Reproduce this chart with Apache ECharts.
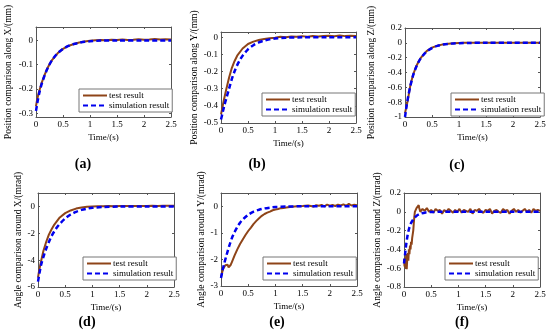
<!DOCTYPE html>
<html><head><meta charset="utf-8">
<script src="https://cdn.jsdelivr.net/npm/echarts@6/dist/echarts.min.js"></script>
<style>html,body{margin:0;padding:0;background:#fff}#c{width:550px;height:333px}</style>
</head><body><div id="c"></div>
<script>
// ---- data ----
var timeTest = [0,0.02,0.05,0.1,0.15,0.2,0.25,0.3,0.4,0.5,0.6,0.7,0.8,0.9,1.0,1.1,1.2,1.3,1.4,1.5,1.6,1.7,1.8,1.9,2.0,2.1,2.2,2.3,2.4,2.5];
var timeSim = [0,0.03,0.06,0.1,0.15,0.2,0.25,0.3,0.35,0.4,0.5,0.6,0.7,0.8,0.9,1.0,1.2,1.5,2.0,2.5];

var testA = [-0.27,-0.245,-0.215,-0.178,-0.147,-0.12,-0.098,-0.08,-0.053,-0.035,-0.023,-0.015,-0.009,-0.005,-0.002,0.001,0.002,0.001,0.003,0.002,0.004,0.002,0.003,0.005,0.003,0.004,0.006,0.004,0.005,0.004];
var simA = [-0.29,-0.25,-0.217,-0.183,-0.15,-0.122,-0.099,-0.08,-0.065,-0.053,-0.035,-0.023,-0.015,-0.01,-0.006,-0.004,-0.001,0,0,0];

var testB = [-0.45,-0.42,-0.37,-0.3,-0.235,-0.18,-0.14,-0.108,-0.066,-0.04,-0.026,-0.017,-0.011,-0.006,-0.003,0.002,0,0.004,0.002,0.006,0.003,0.007,0.004,0.006,0.008,0.005,0.009,0.006,0.008,0.007];
var simB = [-0.48,-0.44,-0.4,-0.355,-0.3,-0.245,-0.2,-0.163,-0.133,-0.108,-0.071,-0.047,-0.031,-0.02,-0.013,-0.008,-0.003,-0.001,0,0];

var testC = [-0.95,-0.88,-0.78,-0.57,-0.43,-0.33,-0.255,-0.195,-0.112,-0.065,-0.038,-0.021,-0.011,-0.005,-0.002,0,0.001,0,0.002,0.001,0.002,0,0.001,0.002,0.001,0.002,0.001,0.002,0.001,0.002];
var simC = [-1.0,-0.85,-0.72,-0.58,-0.44,-0.34,-0.26,-0.2,-0.155,-0.118,-0.07,-0.041,-0.024,-0.014,-0.008,-0.004,-0.001,0,0,0];

var testD = [-5.3,-4.8,-4.2,-3.3,-2.65,-2.1,-1.7,-1.35,-0.82,-0.5,-0.3,-0.16,-0.08,-0.03,0,0.02,0.02,0.03,0.02,0.03,0.03,0.04,0.03,0.04,0.04,0.05,0.04,0.05,0.05,0.05];
var simD = [-5.6,-4.9,-4.3,-3.75,-3.15,-2.65,-2.2,-1.85,-1.55,-1.3,-0.9,-0.6,-0.4,-0.26,-0.17,-0.1,-0.04,-0.01,0,0];

var timeTestE = [0,0.02,0.04,0.06,0.08,0.1,0.12,0.14,0.16,0.18,0.2,0.25,0.3,0.35,0.4,0.45,0.5,0.55,0.6,0.65,0.7,0.75,0.8,0.85,0.9,0.95,1.0,1.05,1.1,1.15,1.2,1.3,1.4,1.5,1.6,1.7,1.75,1.8,1.85,1.9,1.95,2.0,2.05,2.1,2.15,2.2,2.25,2.3,2.35,2.4,2.45,2.5];
var testE = [-2.65,-2.5,-2.35,-2.3,-2.22,-2.28,-2.2,-2.3,-2.25,-2.2,-2.1,-1.85,-1.62,-1.42,-1.25,-1.08,-0.93,-0.8,-0.66,-0.55,-0.45,-0.36,-0.29,-0.24,-0.2,-0.15,-0.12,-0.1,-0.07,-0.06,-0.05,-0.02,0,0.01,0.03,-0.01,0.04,0.02,0.05,0,0.06,0.02,0.05,0.01,0.06,0.03,0.07,0.02,0.09,0.03,0.06,0.04];
var simE = [-2.7,-2.4,-2.15,-1.85,-1.5,-1.2,-0.97,-0.78,-0.62,-0.5,-0.32,-0.2,-0.13,-0.08,-0.05,-0.03,-0.01,0,0,0];

var timeTestF = [0,0.01,0.02,0.03,0.04,0.05,0.06,0.07,0.08,0.09,0.1,0.11,0.12,0.13,0.14,0.15,0.16,0.17,0.18,0.19,0.2,0.21,0.22,0.23,0.24,0.25,0.26,0.27,0.28,0.29,0.3,
  0.34,0.38,0.42,0.46,0.5,0.54,0.58,0.62,0.66,0.7,0.74,0.78,0.82,0.86,0.9,0.94,0.98,1.02,1.06,1.1,1.14,1.18,1.22,1.26,1.3,1.34,1.38,1.42,1.46,1.5,1.54,1.58,1.62,1.66,1.7,1.74,1.78,1.82,1.86,1.9,1.94,1.98,2.02,2.06,2.1,2.14,2.18,2.22,2.26,2.3,2.34,2.38,2.42,2.46,2.5];
var testF = [-0.5,-0.58,-0.52,-0.6,-0.45,-0.61,-0.5,-0.44,-0.52,-0.4,-0.45,-0.36,-0.4,-0.32,-0.35,-0.28,-0.3,-0.2,-0.12,-0.05,0,0.02,0.01,0.04,0.02,0.05,0.03,0.07,0.04,0.02,0.0,
  0.03,0.01,0.04,0.0,0.02,-0.01,0.03,0.01,0.02,-0.02,0.02,0.0,0.03,0.01,-0.01,0.02,0.0,0.03,-0.01,0.02,0.01,0.0,0.03,-0.02,0.02,0.01,0.03,0.0,-0.01,0.02,0.01,0.03,-0.02,0.01,0.02,0.0,-0.01,0.03,0.01,0.02,-0.02,0.01,0.03,0.0,0.02,-0.01,0.01,0.03,0.0,0.02,-0.01,0.03,0.01,0.02,0.01];
var timeSimF = [0,0.02,0.04,0.06,0.08,0.1,0.13,0.16,0.2,0.25,0.3,0.4,0.5,0.7,1.0,1.5,2.0,2.5];
var simF = [-0.55,-0.45,-0.35,-0.27,-0.21,-0.165,-0.12,-0.09,-0.06,-0.035,-0.02,-0.007,-0.002,0,0,0,0,0];

var xTicks = [0,0.5,1,1.5,2,2.5];
var yTicksA = [-0.3,-0.2,-0.1,0];
var yTicksB = [-0.5,-0.4,-0.3,-0.2,-0.1,0];
var yTicksC = [-1,-0.8,-0.6,-0.4,-0.2,0,0.2];
var yTicksD = [-6,-4,-2,0];
var yTicksE = [-3,-2,-1,0];
var yTicksF = [-0.8,-0.6,-0.4,-0.2,0,0.2];

var seriesNames = ['test result','simulation result'];
var xName = 'Time/(s)';
var yNames = ['Position comparison along X/(mm)','Position comparison along Y/(mm)','Position comparison along Z/(mm)',
              'Angle comparison around X/(mrad)','Angle comparison around Y/(mrad)','Angle comparison around Z/(mrad)'];
var panelTags = ['(a)','(b)','(c)','(d)','(e)','(f)'];

// ---- layout ----
var panels = [
  {grid:{left:36,top:27,width:135,height:90}, min:-0.315, max:0.055, ticks:yTicksA, tt:timeTest, test:testA, ts:timeSim, sim:simA, leg:[79,89], tag:[83,157], gap:23},
  {grid:{left:221,top:32,width:135,height:91}, min:-0.5, max:0.03, ticks:yTicksB, tt:timeTest, test:testB, ts:timeSim, sim:simB, leg:[262,93], tag:[257,157], gap:18},
  {grid:{left:405,top:28,width:135,height:89}, min:-1, max:0.2, ticks:yTicksC, tt:timeTest, test:testC, ts:timeSim, sim:simC, leg:[451,93], tag:[457,158], gap:29},
  {grid:{left:38,top:193,width:136,height:94}, min:-6, max:1, ticks:yTicksD, tt:timeTest, test:testD, ts:timeSim, sim:simD, leg:[83,257], tag:[87,315], gap:12},
  {grid:{left:221,top:193,width:136,height:93}, min:-3, max:0.5, ticks:yTicksE, tt:timeTestE, test:testE, ts:timeSim, sim:simE, leg:[263,257], tag:[277,315], gap:12},
  {grid:{left:404,top:193,width:136,height:94}, min:-0.8, max:0.2, ticks:yTicksF, tt:timeTestF, test:testF, ts:timeSimF, sim:simF, leg:[445,257], tag:[462,315], gap:19}
];

var FONT = 'Liberation Serif';
var AX = '#555';
function pairs(t, v){ return t.map(function(x,i){ return [x, v[i]]; }); }

var option = {animation:false, backgroundColor:'#fff', grid:[], xAxis:[], yAxis:[], series:[], legend:[], title:[]};
panels.forEach(function(p, i){
  option.grid.push(Object.assign({containLabel:false}, p.grid));
  var common = {type:'value', gridIndex:i, splitLine:{show:false}};
  option.xAxis.push(Object.assign({}, common, {position:'bottom', min:0, max:2.5,
    axisLine:{onZero:false, lineStyle:{color:AX}},
    axisTick:{inside:true, length:2, customValues:xTicks, lineStyle:{color:AX}},
    axisLabel:{customValues:xTicks, fontFamily:FONT, fontSize:9, color:'#000', margin:3},
    name:xName, nameLocation:'middle', nameGap:16, nameTextStyle:{fontFamily:FONT, fontSize:9, color:'#000'}}));
  option.xAxis.push(Object.assign({}, common, {position:'top', min:0, max:2.5,
    axisLine:{onZero:false, lineStyle:{color:AX}},
    axisTick:{inside:true, length:2, customValues:xTicks, lineStyle:{color:AX}},
    axisLabel:{show:false}}));
  option.yAxis.push(Object.assign({}, common, {position:'left', min:p.min, max:p.max,
    axisLine:{onZero:false, lineStyle:{color:AX}},
    axisTick:{inside:true, length:2, customValues:p.ticks, lineStyle:{color:AX}},
    axisLabel:{customValues:p.ticks, fontFamily:FONT, fontSize:9, color:'#000', margin:3},
    name:yNames[i], nameLocation:'middle', nameGap:p.gap, nameTextStyle:{fontFamily:FONT, fontSize:9.5, color:'#000'}}));
  option.yAxis.push(Object.assign({}, common, {position:'right', min:p.min, max:p.max,
    axisLine:{onZero:false, lineStyle:{color:AX}},
    axisTick:{inside:true, length:2, customValues:p.ticks, lineStyle:{color:AX}},
    axisLabel:{show:false}}));
  option.series.push({type:'line', name:seriesNames[0], xAxisIndex:2*i, yAxisIndex:2*i, data:pairs(p.tt, p.test),
    symbol:'none', smooth:false, z:2, lineStyle:{color:'#8E4418', width:2}, itemStyle:{color:'#8E4418'}});
  option.series.push({type:'line', name:seriesNames[1], xAxisIndex:2*i, yAxisIndex:2*i, data:pairs(p.ts, p.sim),
    symbol:'none', smooth:0.3, z:3, lineStyle:{color:'#0000EE', width:2.5, type:[5,3]}, itemStyle:{color:'#0000EE'}});
  option.legend.push({data:seriesNames, orient:'vertical', left:p.leg[0], top:p.leg[1],
    backgroundColor:'#fff', borderColor:'#777', borderWidth:1, borderRadius:0, padding:[2,3,2,3],
    itemGap:1, itemWidth:24, itemHeight:8, selectedMode:false,
    itemStyle:{opacity:0, borderWidth:0},
    textStyle:{fontFamily:FONT, fontSize:9, color:'#000', padding:[0,0,0,-3]}});
  option.title.push({text:panelTags[i], left:p.tag[0], top:p.tag[1], textAlign:'center', padding:0,
    textStyle:{fontFamily:FONT, fontSize:14, fontWeight:'bold', color:'#000'}});
});
var chart = echarts.init(document.getElementById('c'), null, {renderer:'canvas'});
chart.setOption(option);
</script></body></html>
